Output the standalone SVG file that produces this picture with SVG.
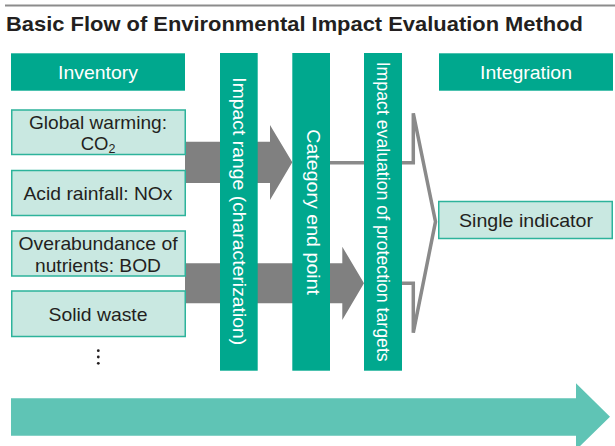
<svg xmlns="http://www.w3.org/2000/svg" width="615" height="446" viewBox="0 0 615 446">
<style>
.hdr{fill:#00a88e}
.box{fill:#c9e8e1;stroke:#2db39b;stroke-width:1.5}
.col{fill:#00a88e}
.t{font-family:"Liberation Sans",Arial,sans-serif;font-size:18.5px;fill:#231f20;text-anchor:middle}
.w{font-family:"Liberation Sans",Arial,sans-serif;font-size:19px;fill:#ffffff}
.wc{text-anchor:middle}
.arr{fill:#808080}
.br{fill:none;stroke:#8a8a8a;stroke-width:3.5;stroke-linejoin:miter}
</style>
<rect width="615" height="446" fill="#ffffff"/>
<line x1="5" y1="5.5" x2="615" y2="5.5" stroke="#8c8c8c" stroke-width="1.8"/>
<text id="title" x="6" y="31" font-family="'Liberation Sans',Arial,sans-serif" font-size="21" font-weight="bold" fill="#231f20" textLength="577" lengthAdjust="spacingAndGlyphs">Basic Flow of Environmental Impact Evaluation Method</text>

<g id="connectors">
  <polygon class="arr" points="185,141.7 270,141.7 270,125 292.3,162.3 270,200 270,183 185,183"/>
  <polygon class="arr" points="185,263.3 342.3,263.3 342.3,246.7 364,283.3 342.3,320 342.3,303.3 185,303.3"/>
  <polyline class="br" points="330,162.7 413.3,162.7 413.3,113.3 435.5,221.7 413.3,332.7 413.3,283.3 364,283.3"/>
  <polygon fill="#5fc4b5" points="11,398.3 576,398.3 576,383.3 610,416.7 576,450 576,435.7 11,435.7"/>
</g>

<g id="inventory">
  <rect class="hdr" x="11" y="53.3" width="174" height="37.4"/>
  <text class="w wc" x="98" y="79.3" textLength="80" lengthAdjust="spacingAndGlyphs">Inventory</text>
</g>
<g id="integration">
  <rect class="hdr" x="439" y="53.3" width="174" height="37.4"/>
  <text class="w wc" x="526" y="79.3" textLength="92" lengthAdjust="spacingAndGlyphs">Integration</text>
</g>

<g id="global-warming">
  <rect class="box" x="11.75" y="110" width="173.5" height="44.5"/>
  <text class="t" x="98" y="129.3" textLength="138" lengthAdjust="spacingAndGlyphs">Global warming:</text>
  <text class="t" x="98" y="150">CO<tspan font-size="12.5" dy="3">2</tspan></text>
</g>
<g id="acid-rainfall">
  <rect class="box" x="11.75" y="170.5" width="173.5" height="45"/>
  <text class="t" x="98" y="200" textLength="149" lengthAdjust="spacingAndGlyphs">Acid rainfall: NOx</text>
</g>
<g id="overabundance">
  <rect class="box" x="11.75" y="231" width="173.5" height="45"/>
  <text class="t" x="98" y="250" textLength="159" lengthAdjust="spacingAndGlyphs">Overabundance of</text>
  <text class="t" x="98" y="271.7" textLength="126" lengthAdjust="spacingAndGlyphs">nutrients: BOD</text>
</g>
<g id="solid-waste">
  <rect class="box" x="11.75" y="291" width="173.5" height="45.5"/>
  <text class="t" x="98" y="320.7" textLength="99" lengthAdjust="spacingAndGlyphs">Solid waste</text>
</g>
<g id="more">
  <circle cx="98.3" cy="350.7" r="1.4" fill="#231f20"/>
  <circle cx="98.3" cy="357" r="1.4" fill="#231f20"/>
  <circle cx="98.3" cy="363.3" r="1.4" fill="#231f20"/>
</g>

<g id="impact-range">
  <rect class="col" x="220" y="53" width="37.7" height="317.7"/>
  <text class="w" transform="translate(232.5,77.3) rotate(90)" textLength="268" lengthAdjust="spacingAndGlyphs">Impact range (characterization)</text>
</g>
<g id="category-end-point">
  <rect class="col" x="292.3" y="53" width="37.7" height="317.7"/>
  <text class="w" transform="translate(306.7,129.3) rotate(90)" textLength="165.7" lengthAdjust="spacingAndGlyphs">Category end point</text>
</g>
<g id="impact-evaluation">
  <rect class="col" x="364" y="53" width="38" height="317.7"/>
  <text class="w" transform="translate(377.3,61.7) rotate(90)" font-size="18.5" textLength="300" lengthAdjust="spacingAndGlyphs">Impact evaluation of protection targets</text>
</g>

<g id="single-indicator">
  <rect class="box" x="438.75" y="201.5" width="173.5" height="37"/>
  <text class="t" x="526" y="227.3" textLength="134" lengthAdjust="spacingAndGlyphs">Single indicator</text>
</g>
</svg>
